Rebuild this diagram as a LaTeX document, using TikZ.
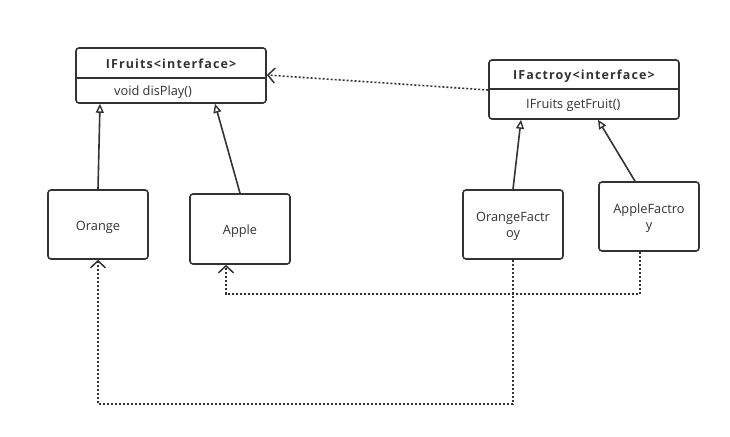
\documentclass[tikz,border=0pt]{standalone}
\usepackage{fontspec}
\setmainfont{Open Sans}
\newfontfamily\titlefont[LetterSpace=9]{Open Sans}
\usetikzlibrary{arrows.meta,calc}
\definecolor{ink}{HTML}{333333}
\tikzset{
  box/.style={draw=ink, line width=1.6pt, rounded corners=3pt, fill=white, inner sep=0pt},
  lbl/.style={text=ink, font=\fontsize{12.8}{16}\selectfont, inner sep=0pt, align=center},
  ttl/.style={text=ink, font=\titlefont\fontsize{12.5}{15}\selectfont\bfseries, inner sep=0pt},
  gen/.style={draw=ink, line width=1.6pt, -{Triangle[open, length=9pt, width=8pt, line width=1.4pt]}},
  dep/.style={draw=ink, line width=1.6pt, dash pattern=on 2pt off 2pt, -{Straight Barb[length=7pt, width=15pt, line width=1.5pt]}},
}
\begin{document}
\begin{tikzpicture}[x=1pt, y=-1pt]
\useasboundingbox (0,0) rectangle (730,436);
% interface boxes
\node[box, minimum width=190pt, minimum height=55pt] (ifruits) at (171,75.5) {};
\node[ttl] (ifruitsT) at (171,64) {IFruits<interface>};
\node[lbl, anchor=west] (ifruitsM) at (114,92.5) {void disPlay()};
\draw[ink, line width=1.6pt] (ifruits.west |- 0,78) -- (ifruits.east |- 0,78);

\node[box, minimum width=190pt, minimum height=59pt] (ifactroy) at (584,89.5) {};
\node[ttl] (ifactroyT) at (584,76) {IFactroy<interface>};
\node[lbl, anchor=west] (ifactroyM) at (526,105.5) {IFruits getFruit()};
\draw[ink, line width=1.6pt] (ifactroy.west |- 0,89) -- (ifactroy.east |- 0,89);

% classes
\node[box, minimum width=100pt, minimum height=69pt] (orange) at (98,224.5) {};
\node[lbl] at ([yshift=-3pt]orange.center) {Orange};
\node[box, minimum width=100pt, minimum height=70pt] (apple) at (240,229) {};
\node[lbl] at ([yshift=-2.5pt]apple.center) {Apple};
\node[box, minimum width=100pt, minimum height=69pt] (ofac) at (513,224.5) {};
\node[lbl] at ([yshift=-2pt]ofac.center) {OrangeFactr\\oy};
\node[box, minimum width=100pt, minimum height=69pt] (afac) at (649,216.5) {};
\node[lbl] at ([yshift=-2pt]afac.center) {AppleFactro\\y};

% generalization arrows
\draw[gen] (orange.north) -- (ifruits.south -| 100,0);
\draw[gen] (apple.north) -- (ifruits.south -| 215,0);
\draw[gen] (ofac.north) -- (ifactroy.south -| 521,0);
\draw[gen] ([xshift=-14pt]afac.north) -- (ifactroy.south -| 598,0);

% dependencies
\draw[dep] (ifactroy.west |- 0,90) -- (ifruits.east |- 0,75);
\draw[dep] ([xshift=-9pt]afac.south) |- (226,294) -- (apple.south -| 226,0);
\draw[dep] (ofac.south) |- (98,404) -- (orange.south);
\end{tikzpicture}
\end{document}
